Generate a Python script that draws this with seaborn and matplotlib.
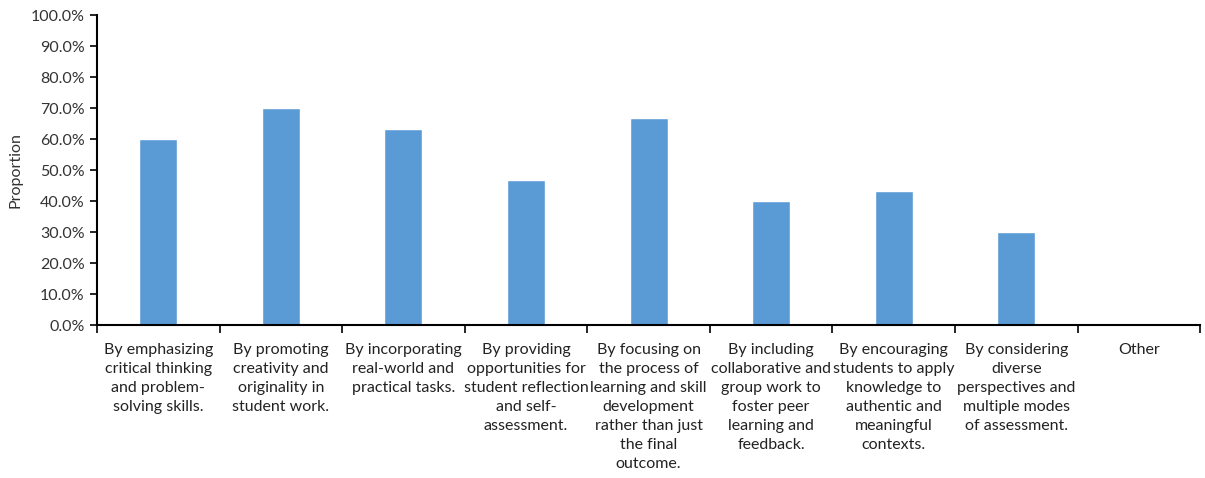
import matplotlib
matplotlib.use("Agg")
import matplotlib.pyplot as plt
from matplotlib.ticker import PercentFormatter, FixedLocator, MultipleLocator
import seaborn as sns
import pandas as pd

categories = [
    "By emphasizing\ncritical thinking\nand problem-\nsolving skills.",
    "By promoting\ncreativity and\noriginality in\nstudent work.",
    "By incorporating\nreal-world and\npractical tasks.",
    "By providing\nopportunities for\nstudent reflection\nand self-\nassessment.",
    "By focusing on\nthe process of\nlearning and skill\ndevelopment\nrather than just\nthe final\noutcome.",
    "By including\ncollaborative and\ngroup work to\nfoster peer\nlearning and\nfeedback.",
    "By encouraging\nstudents to apply\nknowledge to\nauthentic and\nmeaningful\ncontexts.",
    "By considering\ndiverse\nperspectives and\nmultiple modes\nof assessment.",
    "Other",
]
proportions = [0.600, 0.700, 0.633, 0.467, 0.667, 0.400, 0.433, 0.300, 0.0]

sns.set_theme(style="white")
plt.rcParams["font.family"] = ["Lato", "DejaVu Sans"]

df = pd.DataFrame({"category": categories, "proportion": proportions})

fig = plt.figure(figsize=(12.05, 4.78), dpi=100)
ax = fig.add_axes([0.0805, 0.320, 0.9155, 0.6486])

sns.barplot(data=df, x="category", y="proportion", color="#5B9BD5",
            saturation=1, width=0.31, ax=ax)

ax.set_xlim(-0.5, len(categories) - 0.5)
ax.set_ylim(0, 1.0)
ax.yaxis.set_major_locator(MultipleLocator(0.1))
ax.yaxis.set_major_formatter(PercentFormatter(xmax=1, decimals=1))

# category boundary ticks on the x axis, labels centred without tick marks
ax.xaxis.set_minor_locator(FixedLocator([i - 0.5 for i in range(len(categories) + 1)]))
ax.tick_params(axis="x", which="major", length=0, pad=13, labelsize=11.5,
               colors="#222222")
ax.tick_params(axis="x", which="minor", length=6, width=1.2, color="black",
               direction="out", bottom=True)
ax.tick_params(axis="y", which="major", length=5, width=1.2, color="black",
               direction="out", left=True, labelsize=11.5, labelcolor="#333333",
               pad=4)
for lbl in ax.get_xticklabels():
    lbl.set_ha("center")
    lbl.set_va("top")
    lbl.set_linespacing(1.45)

ax.set_xlabel("")
ax.set_ylabel("Proportion", fontsize=11.5, color="#333333", labelpad=6)

sns.despine(ax=ax)
for side in ("left", "bottom"):
    ax.spines[side].set_color("black")
    ax.spines[side].set_linewidth(1.5)

fig.savefig("out.png", dpi=100, facecolor="white")
